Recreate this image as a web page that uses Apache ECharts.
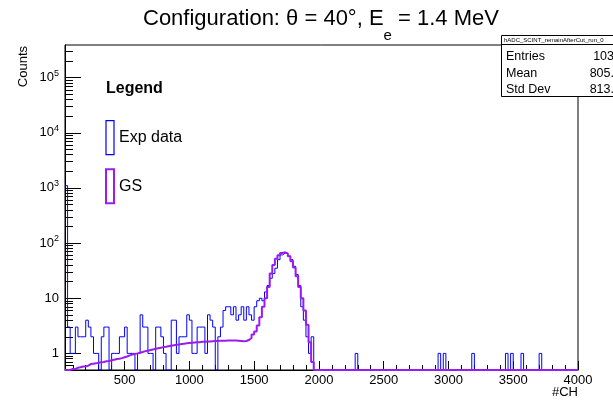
<!DOCTYPE html>
<html>
<head>
<meta charset="utf-8">
<script src="https://cdn.jsdelivr.net/npm/echarts@6.0.0/dist/echarts.min.js"></script>
<style>
html,body{margin:0;padding:0;background:#ffffff;}
#chart{width:613px;height:408px;}
</style>
</head>
<body>
<div id="chart"></div>
<script>
// ---------------- data ----------------
const BIN_START = 40;
const BIN_WIDTH = 20;
// Exp data counts per 20-channel bin, starting at channel 40
const expCounts = [
  1100,3,1,1,3,2,2,2,4,3,2,1,1,0,2,3,3,0,1,1,
  1,2,2,3,1,1,1,0,1,5,3,3,1,1,0,3,3,2,1,0,
  0,4,4,1,2,2,2,5,4,1,1,3,3,3,1,5,4,3,0,2,
  3,6,7,7,5,7,4,5,7,4,7,5,4,7,9,10,9,13,17,23,
  28,35,50,61,66,64,58,50,38,27,17,7,4,2,1,2,0,0,0,0,
  0,0,0,0,0,0,0,0,0,0,0,0,1,0,0,0,0,0,0,0,
  0,0,0,0,0,0,0,0,0,0,0,0,0,0,0,0,0,0,0,0,
  0,0,0,0,1,0,1,0,0,0,0,0,0,0,0,0,0,1,0,0,
  0,0,0,0,0,0,0,0,0,0,1,0,1,0,0,0,1,0,0,0,
  0,0,0,1,0,0,0,0,0,0,0,0,0,0,0,0,0,0
];
// GS (simulation) counts per bin
const gsCounts = [
  0.5,0.5,0.52,0.52,0.55,0.56,0.58,0.58,0.6,0.64,0.65,0.66,0.68,0.69,0.7,0.72,0.73,0.75,0.77,0.79,
  0.8,0.82,0.85,0.88,0.92,0.95,0.98,1.0,1.03,1.06,1.1,1.12,1.15,1.18,1.21,1.24,1.27,1.3,1.32,1.35,
  1.38,1.4,1.43,1.45,1.48,1.5,1.52,1.54,1.56,1.58,1.59,1.6,1.62,1.63,1.64,1.65,1.66,1.67,1.68,1.69,
  1.7,1.7,1.71,1.71,1.72,1.71,1.7,1.68,1.66,1.68,1.75,1.9,2.2,2.5,3.2,4.5,7,10,16,28,
  40,52,60,66,68,65,58,47,36,25,16,10,6,3.3,1.6,0.7,0,0,0,0,
  0,0,0,0,0,0,0,0,0,0,0,0,0,0,0,0,0,0,0,0,
  0,0,0,0,0,0,0,0,0,0,0,0,0,0,0,0,0,0,0,0,
  0,0,0,0,0,0,0,0,0,0,0,0,0,0,0,0,0,0,0,0,
  0,0,0,0,0,0,0,0,0,0,0,0,0,0,0,0,0,0,0,0,
  0,0,0,0,0,0,0,0,0,0,0,0,0,0,0,0,0,0
];
const xTickValues = [500, 1000, 1500, 2000, 2500, 3000, 3500, 4000];
const yTickValues = [1, 10, 100, 1000, 10000, 100000];
const seriesNames = ['Exp data', 'GS'];
const titleText = 'Configuration: θ = 40°, E{sub|e} = 1.4 MeV';
const legendHeader = 'Legend';
const xAxisTitle = '#CH';
const yAxisTitle = 'Counts';
const statsName = 'hADC_SCINT_remainAfterCut_run_0';
const statsLabels = ['Entries', 'Mean', 'Std Dev'];
const statsValues = ['103', '805.', '813.'];

// ---------------- layout / style ----------------
const X_MIN = 40, X_MAX = 4000, Y_MIN = 0.5, Y_MAX = 3.9e5;
const FONT = '"Liberation Sans", Arial, Helvetica, sans-serif';
const BLUE = '#0000ff';
const PURPLE = '#9a1cf0';

function stepPoints(counts) {
  const pts = counts.map((c, i) => [BIN_START + i * BIN_WIDTH, Math.max(c, Y_MIN)]);
  pts.push([BIN_START + counts.length * BIN_WIDTH, Math.max(counts[counts.length - 1], Y_MIN)]);
  return pts;
}

const yMinorTicks = [];
for (let e = -1; e <= 5; e++) {
  for (let m = 2; m <= 9; m++) {
    const v = +(m * Math.pow(10, e)).toPrecision(3);
    if (v > Y_MIN && v < Y_MAX) yMinorTicks.push(v);
  }
}
const xMinorTicks = [];
for (let v = 100; v < X_MAX; v += 100) if (v > X_MIN) xMinorTicks.push(v);

function yLabel(v) {
  if (v < 100) return String(v);
  return '10{s|' + Math.round(Math.log10(v)) + '}';
}

const chart = echarts.init(document.getElementById('chart'), null, {renderer: 'canvas'});
const option = {
  animation: false,
  backgroundColor: '#ffffff',
  textStyle: {fontFamily: FONT},
  title: [
    {
      text: titleText, left: 143, top: -5, padding: 0,
      textStyle: {
        fontFamily: FONT, fontSize: 22, fontWeight: 'normal', color: '#000', lineHeight: 48,
        rich: {sub: {fontFamily: FONT, fontSize: 15, color: '#000', verticalAlign: 'bottom', lineHeight: 16}}
      }
    },
    {
      text: legendHeader, left: 106, top: 81, padding: 0,
      textStyle: {fontFamily: FONT, fontSize: 16, fontWeight: 'bold', color: '#000'}
    }
  ],
  legend: {
    orient: 'vertical', left: 105, top: 120, padding: 0,
    itemWidth: 8, itemHeight: 34, itemGap: 13, selectedMode: false,
    textStyle: {fontFamily: FONT, fontSize: 16, color: '#000'},
    data: [
      {name: seriesNames[0], icon: 'rect', itemStyle: {color: 'rgba(0,0,0,0)', borderColor: BLUE, borderWidth: 1.2}},
      {name: seriesNames[1], icon: 'rect', itemStyle: {color: 'rgba(0,0,0,0)', borderColor: PURPLE, borderWidth: 2}}
    ]
  },
  grid: {
    left: 65, top: 45, right: 35, bottom: 38, containLabel: false, outerBoundsMode: 'none',
    show: true, borderColor: '#000', borderWidth: 1, backgroundColor: 'rgba(0,0,0,0)'
  },
  xAxis: [
    {
      type: 'value', min: X_MIN, max: X_MAX, position: 'bottom',
      axisLine: {show: true, onZero: false, lineStyle: {color: '#000', width: 1}},
      axisTick: {show: true, inside: true, length: 9, customValues: xTickValues, lineStyle: {color: '#000', width: 1}},
      axisLabel: {show: true, customValues: xTickValues, margin: 4, fontSize: 13, color: '#000', fontFamily: FONT,
        formatter: v => String(v)},
      splitLine: {show: false},
      name: xAxisTitle, nameLocation: 'end', nameGap: 0, nameMoveOverlap: false,
      nameTextStyle: {fontFamily: FONT, fontSize: 13, color: '#000', align: 'right', verticalAlign: 'top', padding: [16, 0, 0, 0]}
    },
    {
      type: 'value', min: X_MIN, max: X_MAX, position: 'bottom',
      axisLine: {show: false, onZero: false},
      axisTick: {show: true, inside: true, length: 5, customValues: xMinorTicks, lineStyle: {color: '#000', width: 1}},
      axisLabel: {show: false},
      splitLine: {show: false}
    }
  ],
  yAxis: [
    {
      type: 'log', logBase: 10, min: Y_MIN, max: Y_MAX, position: 'left',
      axisLine: {show: true, onZero: false, lineStyle: {color: '#000', width: 1}},
      axisTick: {show: true, inside: true, length: 16, customValues: yTickValues, lineStyle: {color: '#000', width: 1}},
      axisLabel: {
        show: true, customValues: yTickValues, margin: 6, fontSize: 13, color: '#000', fontFamily: FONT,
        formatter: yLabel,
        rich: {s: {fontSize: 9, fontFamily: FONT, color: '#000', padding: [0, 0, 9, 0]}}
      },
      splitLine: {show: false},
      name: yAxisTitle, nameLocation: 'end', nameGap: -1, nameRotate: 90, nameMoveOverlap: false,
      nameTextStyle: {fontFamily: FONT, fontSize: 13, color: '#000', align: 'right', verticalAlign: 'bottom', padding: [0, 0, 35, 0]}
    },
    {
      type: 'log', logBase: 10, min: Y_MIN, max: Y_MAX, position: 'left',
      axisLine: {show: false, onZero: false},
      axisTick: {show: true, inside: true, length: 8, customValues: yMinorTicks, lineStyle: {color: '#000', width: 1}},
      axisLabel: {show: false},
      splitLine: {show: false}
    }
  ],
  series: [
    {
      name: seriesNames[0], type: 'line', step: 'end', xAxisIndex: 0, yAxisIndex: 0,
      data: stepPoints(expCounts), symbol: 'none', showSymbol: false, clip: true, z: 3,
      lineStyle: {color: BLUE, width: 1}, itemStyle: {color: BLUE}
    },
    {
      name: seriesNames[1], type: 'line', step: 'end', xAxisIndex: 0, yAxisIndex: 0,
      data: stepPoints(gsCounts), symbol: 'none', showSymbol: false, clip: true, z: 4,
      lineStyle: {color: PURPLE, width: 2}, itemStyle: {color: PURPLE}
    }
  ],
  graphic: [
    {
      type: 'group', z: 100, children: [
        {type: 'rect', shape: {x: 501.5, y: 35.5, width: 150, height: 61}, style: {fill: '#fff', stroke: '#000', lineWidth: 1}},
        {type: 'line', shape: {x1: 501.5, y1: 44.5, x2: 652, y2: 44.5}, style: {stroke: '#000', lineWidth: 1}},
        {type: 'text', x: 504, y: 40, style: {text: statsName, font: '6px ' + FONT, fill: '#000', verticalAlign: 'middle'}}
      ].concat(statsLabels.map((t, i) => ({
        type: 'text', x: 506, y: 57 + 16.5 * i,
        style: {text: t, font: '12.5px ' + FONT, fill: '#000', verticalAlign: 'middle', align: 'left'}
      }))).concat(statsValues.map((t, i) => ({
        type: 'text', x: 614, y: 57 + 16.5 * i,
        style: {text: t, font: '12.5px ' + FONT, fill: '#000', verticalAlign: 'middle', align: 'right'}
      })))
    }
  ]
};
chart.setOption(option);
</script>
</body>
</html>
